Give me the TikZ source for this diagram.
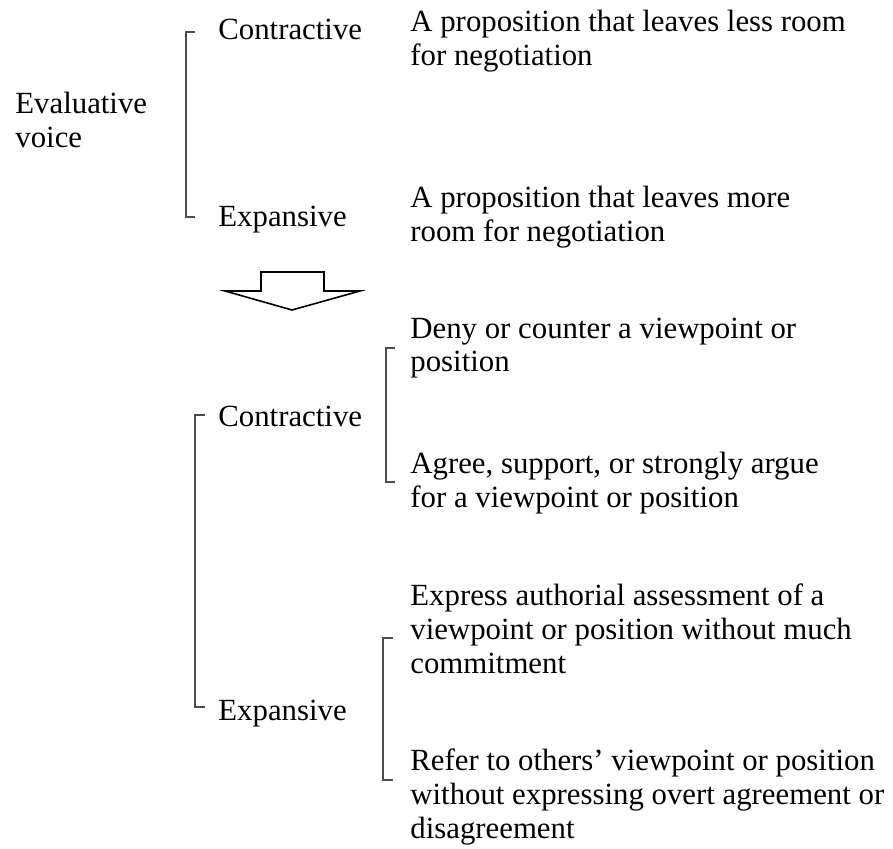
\documentclass[tikz,border=0pt]{standalone}
\usepackage{fontspec}
\setmainfont{Liberation Serif}
\tikzset{
  lbl/.style={anchor=base west, inner sep=0pt, align=left,
    font=\fontsize{15.4}{17}\selectfont},
  brack/.style={draw=black!70, line width=0.9pt},
}
\begin{document}
\begin{tikzpicture}[x=0.5pt,y=-0.5pt]
            \useasboundingbox (0,0) rectangle (893,849);
            % upper part (base = baseline of the last line)
            \node[lbl] (ev) at (15,148) {Evaluative\\voice};
            \node[lbl] (con1) at (218,40) {Contractive};
            \node[lbl] (exp1) at (218,227) {Expansive};
            \node[lbl] (less) at (410,66) {A proposition that leaves less room\\for negotiation};
            \node[lbl] (more) at (410,242) {A proposition that leaves more\\room for negotiation};
            \draw[brack] (195,32) -- (186,32) -- (186,217) -- (195,217);
            % arrow
            \draw[line width=0.8pt, fill=white] (261,272) -- (324,272) -- (324,291) -- (360,291)
                -- (292,310) -- (225,291) -- (261,291) -- cycle;
            % lower part
            \node[lbl] (con2) at (218,427) {Contractive};
            \node[lbl] (exp2) at (218,720) {Expansive};
            \node[lbl] (deny) at (410,372) {Deny or counter a viewpoint or\\position};
            \node[lbl] (agree) at (410,507) {Agree, support, or strongly argue\\for a viewpoint or position};
            \node[lbl] (assess) at (410,673) {Express authorial assessment of a\\viewpoint or position without much\\commitment};
            \node[lbl] (refer) at (410,838) {Refer to others' viewpoint or position\\without expressing overt agreement or\\disagreement};
            \draw[brack] (205,415) -- (195,415) -- (195,707) -- (205,707);
            \draw[brack] (395,348) -- (386,348) -- (386,482) -- (395,482);
            \draw[brack] (393,638) -- (383,638) -- (383,780) -- (393,780);
        \end{tikzpicture}
\end{document}
